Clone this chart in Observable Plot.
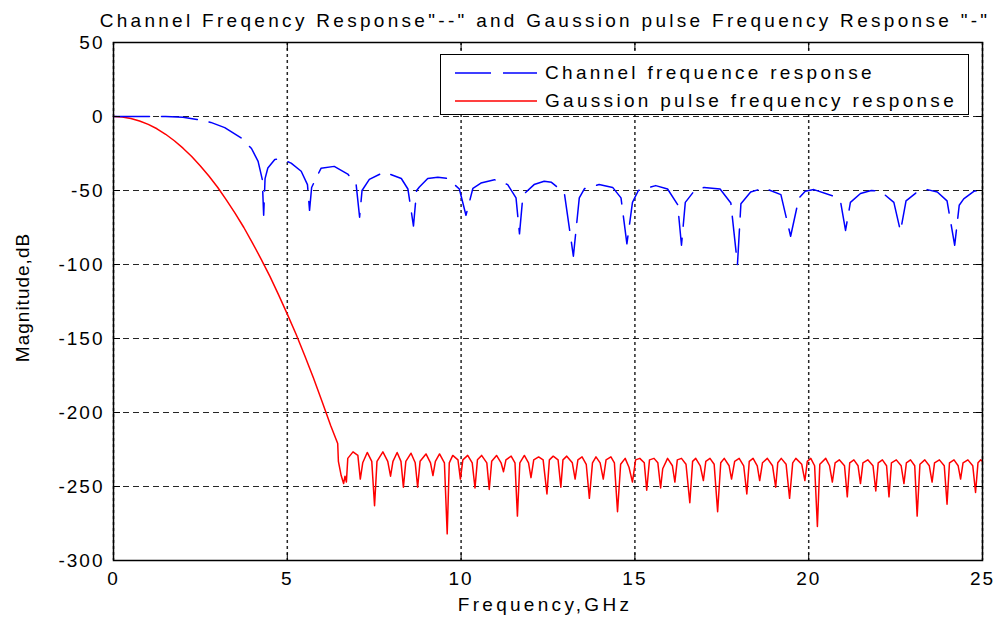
<!DOCTYPE html>
<html><head><meta charset="utf-8">
<script src="https://cdn.jsdelivr.net/npm/d3@7"></script>
<script src="https://cdn.jsdelivr.net/npm/@observablehq/plot@0.6"></script>
<style>
body{margin:0;background:#fff;}
#wrap{position:relative;width:999px;height:617px;font-family:"Liberation Sans",Arial,sans-serif;}
#legend{position:absolute;left:440px;top:54px;width:529px;height:61px;border:1.5px solid #000;background:#fff;box-sizing:border-box;}
#legend .row{position:absolute;left:0;height:22px;width:100%;}
#legend svg{position:absolute;left:0;top:0;}
#legend span{position:absolute;left:104px;top:1px;font-size:19px;letter-spacing:3.3px;white-space:nowrap;color:#000;line-height:19px;}
g[aria-label="y-axis tick label"] text, g[aria-label="x-axis tick label"] text{letter-spacing:2px;}
</style></head><body>
<div id="wrap"></div>
<script>
const titleText = 'Channel Freqency Response"--" and Gaussion pulse Frequency Response "-"';
const xLabel = "Frequency,GHz";
const yLabel = "Magnitude,dB";
const seriesNames = ["Channel frequence response", "Gaussion pulse frequency response"];
const xTicks = [0, 5, 10, 15, 20, 25];
const yTicks = [-300, -250, -200, -150, -100, -50, 0, 50];

// Channel frequency response (blue, dashed)
const blueFreq = [0,0.5,1,1.5,2,2.4,2.8,3.2,3.68,3.97,4.16,4.28,4.32,4.36,4.44,4.64,4.83,5.11,5.40,5.58,5.64,5.70,5.78,5.97,6.35,6.74,6.98,7.08,7.15,7.36,7.79,8.28,8.47,8.63,8.72,8.80,9.04,9.33,9.62,9.95,10.14,10.34,10.57,10.96,11.34,11.58,11.68,11.78,12.10,12.39,12.60,12.97,13.23,13.40,13.55,13.97,14.36,14.60,14.77,14.93,15.10,15.60,15.94,16.23,16.34,16.45,16.70,16.99,17.45,17.76,17.95,18.05,18.33,18.72,19.20,19.48,19.72,19.90,20.15,20.73,20.92,21.06,21.20,21.49,21.80,22.07,22.45,22.64,22.80,23.12,23.41,23.70,23.98,24.20,24.33,24.46,24.75,25];
const blueDb = [0,0,0,0,-0.5,-2,-4,-7.5,-14.6,-21.6,-30.3,-42.5,-66.7,-42,-34.8,-29,-28.8,-31.5,-37,-46,-63.4,-48,-44,-35,-33.7,-38.9,-45.9,-68,-50,-42.5,-37.5,-41.9,-49,-74,-50,-47.6,-41.9,-41,-41.9,-49,-66.7,-48.5,-45,-42.7,-46,-55,-79.3,-53,-46,-43.8,-44.5,-51.7,-94.4,-55,-48.7,-46,-47.9,-55,-86,-58,-50,-46.7,-49,-59.5,-87,-58,-50.5,-47.9,-49,-58.4,-100,-59,-51,-48.3,-52.8,-80.9,-55,-50.5,-49.4,-54,-58,-77,-58,-52,-50,-50.5,-58,-77.5,-57,-51,-49.4,-51,-57,-87,-60,-55.7,-50.6,-49];

// Gaussian pulse frequency response (red, solid)
const redFreq = [
  0,0.25,0.5,0.75,1,1.25,1.5,1.75,2,2.25,2.5,2.75,3,3.25,3.5,3.75,4,4.25,4.5,4.75,5,5.25,5.5,5.75,6,6.25,6.45,
  6.47,6.55,6.62,6.66,6.70,6.74,6.89,7.03,7.10,
  7.17,7.30,7.43,7.51, 7.58,7.75,7.89,7.97, 8.04,8.16,8.27,8.34, 8.41,8.56,8.68,8.75,
  8.82,8.99,9.12,9.19, 9.26,9.38,9.52,9.60, 9.66,9.76,9.91,9.98, 10.05,10.19,10.32,10.40,
  10.47,10.59,10.74,10.81, 10.88,11.02,11.15,11.22, 11.29,11.44,11.55,11.62, 11.69,11.82,11.94,12.01,
  12.09,12.23,12.36,12.47, 12.54,12.65,12.79,12.87, 12.93,13.04,13.20,13.28, 13.36,13.48,13.60,13.69,
  13.78,13.88,14.00,14.09, 14.17,14.31,14.41,14.50, 14.59,14.72,14.83,14.93, 15.02,15.14,15.27,15.34,
  15.42,15.55,15.66,15.74, 15.80,15.94,16.08,16.15, 16.22,16.34,16.47,16.58, 16.66,16.75,16.88,16.97,
  17.04,17.16,17.28,17.38, 17.47,17.57,17.71,17.78, 17.87,18.00,18.13,18.22, 18.29,18.40,18.52,18.59,
  18.67,18.81,18.96,19.05, 19.11,19.21,19.35,19.45, 19.54,19.63,19.80,19.89, 19.96,20.06,20.17,20.25,
  20.32,20.49,20.60,20.68, 20.76,20.88,21.03,21.11, 21.18,21.30,21.42,21.49, 21.56,21.70,21.85,21.93,
  22.00,22.12,22.24,22.31, 22.38,22.52,22.66,22.74, 22.81,22.93,23.05,23.12, 23.20,23.34,23.47,23.55,
  23.62,23.76,23.90,23.98, 24.05,24.18,24.30,24.37, 24.44,24.58,24.72,24.80, 24.87,24.95,25.00
];
const redDb = [
  0,-0.3,-1.3,-3,-5.3,-8.3,-12,-16.4,-21.4,-27,-33.4,-40.4,-48,-56.5,-65.5,-75,-85.5,-96.5,-108,-120.5,-133.5,-147,-161.5,-176.5,-192.5,-209,-221,
  -233,-242.6,-248,-243,-247,-231,-226.6,-229,-245,
  -234,-227,-233,-263, -233,-226.6,-233,-243, -233,-227,-233,-250.5, -233,-227.5,-234,-250.5,
  -233,-228,-234,-242.6, -233,-228,-234,-282, -234,-229,-232,-245, -232,-229,-234,-251,
  -232,-229,-234,-252, -233,-229,-234,-240, -232,-229.5,-234,-270, -234,-229,-234,-244,
  -232,-230,-232,-255, -232,-229.5,-232,-250.5, -232,-229.5,-234,-245, -232,-230,-235,-258,
  -234,-230,-234,-245, -232,-230,-234,-267, -235,-231,-237,-247, -232,-231,-234,-252.5,
  -232,-231,-234,-251, -238,-231,-236,-247, -232,-231,-235,-261, -233,-231,-236,-246,
  -233,-231,-235,-267, -234,-231,-236,-245, -233,-231,-236,-255, -233,-231,-236,-246,
  -234,-231,-236,-250.5, -234,-231,-235,-258, -234,-231,-235,-246, -233,-231,-236,-277,
  -235,-231,-236,-247, -234,-232,-236,-257, -234,-232,-236,-248, -234,-232,-236,-253,
  -234,-232,-236,-257, -234,-232,-236,-248, -234,-232,-236,-270, -235,-232,-236,-247,
  -234,-232,-236,-262, -234,-232,-236,-245, -234,-232,-236,-254, -234,-232,-233
];

const blue = blueFreq.map((f, i) => ({f, db: blueDb[i]}));
const red = redFreq.map((f, i) => ({f, db: redDb[i]}));
const plainFormat = d => String(d);

const chart = Plot.plot({
  width: 999,
  height: 617,
  marginLeft: 113,
  marginRight: 17,
  marginTop: 42,
  marginBottom: 57,
  style: {fontFamily: '"Liberation Sans", Arial, sans-serif', fontSize: "19px", color: "#000", background: "#fff"},
  x: {domain: [0, 25], ticks: xTicks, label: null},
  y: {domain: [-300, 50], ticks: yTicks, label: null},
  marks: [
    Plot.gridY(yTicks, {stroke: "#000", strokeOpacity: 0.85, strokeDasharray: "6,4"}),
    Plot.gridX(xTicks, {stroke: "#000", strokeOpacity: 0.85, strokeDasharray: "3,3", strokeWidth: 1.5}),
    Plot.line(red, {x: "f", y: "db", stroke: "#ff0000", strokeWidth: 1.5}),
    Plot.line(blue, {x: "f", y: "db", stroke: "#0000ff", strokeWidth: 1.5, strokeDasharray: "36,12"}),
    Plot.frame({stroke: "#000", strokeWidth: 1.5}),
    Plot.axisX(xTicks, {anchor: "bottom", tickSize: -7, tickPadding: 18, tickFormat: plainFormat, label: null}),
    Plot.axisX(xTicks, {anchor: "top", tickSize: -7, tickFormat: () => "", label: null}),
    Plot.axisY(yTicks, {anchor: "left", tickSize: -7, tickPadding: 16, tickFormat: plainFormat, label: null}),
    Plot.axisY(yTicks, {anchor: "right", tickSize: -7, tickFormat: () => "", label: null}),
    Plot.text([titleText], {frameAnchor: "top", dy: -15.5, dx: -3, lineAnchor: "bottom", fontSize: 19, fill: "#000"}),
    Plot.text([xLabel], {frameAnchor: "bottom", dy: 50.5, dx: -3, lineAnchor: "bottom", fontSize: 19, fill: "#000"}),
    Plot.text([yLabel], {frameAnchor: "left", dx: -91, dy: -4, rotate: -90, textAnchor: "middle", lineAnchor: "middle", fontSize: 19, fill: "#000"})
  ]
});

const wrap = document.getElementById("wrap");
wrap.appendChild(chart);
// letter spacing for stretched-looking text
d3.select(chart).selectAll('g[aria-label="text"] text').each(function() {
  const t = d3.select(this).text();
  if (t === titleText || t === xLabel) d3.select(this).style("letter-spacing", "3.3px");
  else d3.select(this).style("letter-spacing", "1px");
});

// Legend (HTML overlay inside the axes area)
const legend = document.createElement("div");
legend.id = "legend";
const legendStyles = [{color: "#0000ff", dash: "36,12"}, {color: "#ff0000", dash: null}];
seriesNames.forEach((name, i) => {
  const row = document.createElement("div");
  row.className = "row";
  row.style.top = (i === 0 ? 7 : 35) + "px";
  const svg = d3.create("svg").attr("width", 100).attr("height", 22);
  svg.append("line").attr("x1", 14).attr("x2", 96).attr("y1", 11).attr("y2", 11)
    .attr("stroke", legendStyles[i].color).attr("stroke-width", 1.5)
    .attr("stroke-dasharray", legendStyles[i].dash);
  row.appendChild(svg.node());
  const span = document.createElement("span");
  span.textContent = name;
  row.appendChild(span);
  legend.appendChild(row);
});
wrap.appendChild(legend);
</script>
</body></html>
